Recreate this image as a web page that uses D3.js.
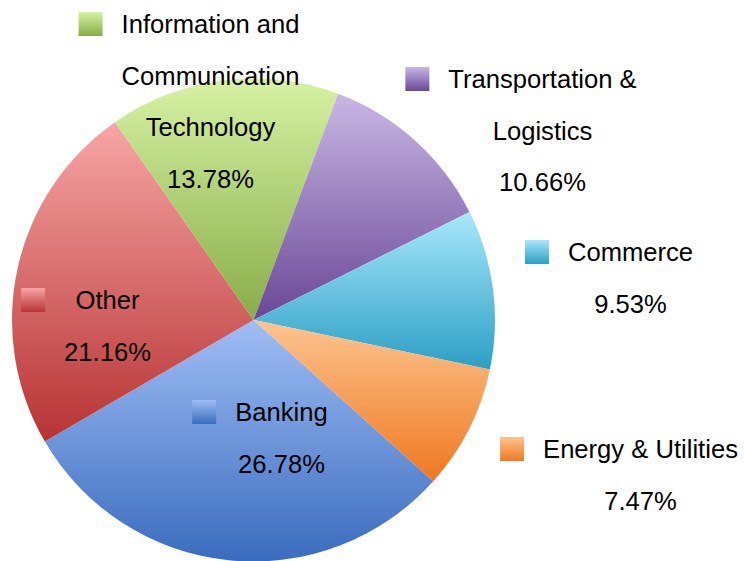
<!DOCTYPE html>
<html>
<head>
<meta charset="utf-8">
<script src="https://cdn.jsdelivr.net/npm/d3@7"></script>
<style>
  body { margin: 0; background: #fff; }
  text { font-family: "Liberation Sans", Arial, sans-serif; fill: #000; }
</style>
</head>
<body>
<svg id="pie_svg" width="744" height="561"></svg>
<script>
// chart data
const sectors = ["Banking", "Other", "Information and Communication Technology", "Transportation & Logistics", "Commerce", "Energy & Utilities"];
const shares = [26.78, 21.16, 13.78, 10.66, 9.53, 7.47];
// label lines as they wrap in the picture
const labelLines = [
  ["Banking"],
  ["Other"],
  ["Information and", "Communication", "Technology"],
  ["Transportation &", "Logistics"],
  ["Commerce"],
  ["Energy & Utilities"]
];
const topColors = ["#a0bef5", "#f7a6a5", "#d6f2a3", "#c9b7e4", "#a8e7fc", "#fdc490"];
const bottomColors = ["#3a6cbe", "#b73333", "#88ad48", "#6a4797", "#2c9fc4", "#ef7820"];

// label placement relative to pie centre (text centre x, first baseline y)
const labelOffset = [[28, 100], [-146, -12], [-43, -288], [289, -233], [377, -60], [387, 137]];

const width = 744, height = 561;
const cx = 253.5, cy = 320, radius = 241.5;
const lineGap = 51.5;

const svg = d3.select("#pie_svg");
const defs = svg.append("defs");

const pie = d3.pie()
  .sort(null)
  .value(d => d)
  .startAngle(131.9 * Math.PI / 180)
  .endAngle(131.9 * Math.PI / 180 + 2 * Math.PI);

const arc = d3.arc().innerRadius(0).outerRadius(radius);

const arcs = pie(shares);

// one vertical gradient per sector
sectors.forEach((s, i) => {
  const g = defs.append("linearGradient")
    .attr("id", "grad" + i)
    .attr("x1", 0).attr("y1", 0).attr("x2", 0).attr("y2", 1);
  g.append("stop").attr("offset", "0%").attr("stop-color", topColors[i]);
  g.append("stop").attr("offset", "100%").attr("stop-color", bottomColors[i]);
});

const g = svg.append("g")
  .attr("transform", `translate(${cx}, ${cy})`);

g.selectAll("path")
  .data(arcs)
  .enter()
  .append("path")
  .attr("d", arc)
  .attr("fill", (d, i) => `url(#grad${i})`);

// labels: legend square + name lines + percentage
arcs.forEach((d, i) => {
  const [ox, oy] = labelOffset[i];
  const lines = labelLines[i].concat([d3.format(".2f")(shares[i]) + "%"]);
  const lg = g.append("g");
  let minLeft = Infinity;
  lines.forEach((t, j) => {
    const txt = lg.append("text")
      .attr("x", ox)
      .attr("y", oy + 1 + j * lineGap)
      .attr("text-anchor", "middle")
      .style("font-size", "25.6px")
      .text(t);
    const w = txt.node().getComputedTextLength();
    minLeft = Math.min(minLeft, ox - w / 2);
  });
  lg.append("rect")
    .attr("x", minLeft - 19 - 24)
    .attr("y", oy - 20)
    .attr("width", 24)
    .attr("height", 24)
    .attr("fill", `url(#grad${i})`);
});
</script>
</body>
</html>
